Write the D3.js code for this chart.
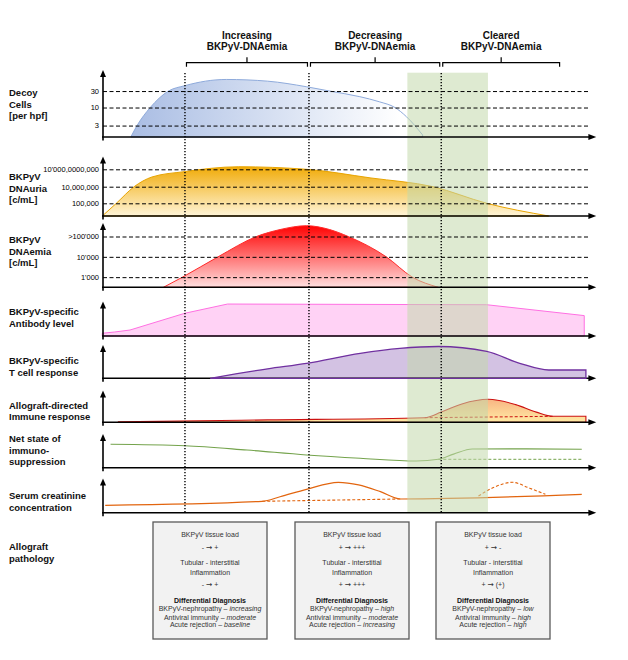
<!DOCTYPE html>
<html>
<head>
<meta charset="utf-8">
<script src="https://cdn.jsdelivr.net/npm/d3@7"></script>
<style>
body { margin: 0; background: #fff; }
svg { font-family: "Liberation Sans", Arial, sans-serif; }
</style>
</head>
<body>
<svg id="chart" width="628" height="660"></svg>
<script>
(function(){
// phases of BKPyV-DNAemia (time in arbitrary units)
const phases = ["Increasing", "Decreasing", "Cleared"];
const phaseStart = [20, 50, 82];
const phaseEnd = [50, 82, 111];
const bandTime = [73.8, 93.3];

// decoy cells per hpf
const decoyTicks = [3, 10, 30];
const decoy = [[6.9,1.4],[8.4,3],[11.6,10],[16,30],[20,43],[30,65],[40,58],[49.4,40],[55,30],[62.3,20.6],[67,14.7],[70.8,10],[73.6,5.4],[77.5,1.6]];

// DNAuria c/mL
const uriaTicks = [1e5, 1e7, 1e10];
const uriaLabels = ["100,000", "10,000,000", "10'000,0000,000"];
const uria = [[0,1e3],[3.4,1e5],[7.7,1e7],[12,4.7e8],[19.8,3.9e9],[33,2.6e10],[49.4,1e10],[65,3.2e8],[80,1e7],[93,1e5],[108,1e3]];

// DNAemia c/mL
const emiaTicks = [1e3, 1e4, 1e5];
const emiaLabels = ["1'000", "10'000", ">100'000"];
const emia = [[14.8,316],[19.4,1e3],[28,1e4],[37.3,1e5],[43,2.2e5],[49.4,3.4e5],[55,2.2e5],[59.5,1e5],[68.7,1e4],[75,1e3],[81.3,316]];

// relative levels 0-100
const antibody = [[0,8],[3,11.8],[6.7,17.6],[20,67],[30.3,94],[93,92],[116.6,60]];
const tcell = [[26.1,0],[40,28],[49.4,44],[62.4,73.5],[72,88],[81.3,93.5],[93,79],[101,44],[108,24.4],[117,24.4]];
const allograft = [[3.9,1.8],[40,7],[78,13.5],[82,30],[87,54],[93.4,67.6],[100,52],[105,30],[109,17.6],[117,17.6]];
const allograftBase = [[78,13.5],[109,17.6]];
const netState = [[2,68.8],[20,64.7],[35,52],[49.4,37.4],[62.4,27.6],[76,19.7],[81.3,24.7],[85,40],[89.5,55],[100,55.5],[116,54.1]];
const netDashed = [[81.3,24.7],[116,24.7]];
const creatinine = [[0.7,21.8],[38.7,33.5],[43,47],[49.4,68.8],[57.1,89.4],[62,82],[67.3,61.8],[72.1,40.3],[116,54.1]];
const creatDashed = [[38.7,33.5],[72.1,40.3]];
const creatBump = [[91,49.1],[95,76],[99.2,89.4],[103.4,72],[107.2,54.1]];

// allograft pathology boxes: [from, to]
const tissueLoad = [["-", "+"], ["+", "+++"], ["+", "-"]];
const inflammation = [["-", "+"], ["+", "+++"], ["+", "(+)"]];
const nephropathy = ["increasing", "high", "low"];
const antiviral = ["moderate", "moderate", "high"];
const rejection = ["baseline", "increasing", "high"];

const rowLabels = [["Decoy","Cells","[per hpf]"],["BKPyV","DNAuria","[c/mL]"],["BKPyV","DNAemia","[c/mL]"],
  ["BKPyV-specific","Antibody level"],["BKPyV-specific","T cell response"],["Allograft-directed","Immune response"],
  ["Net state of","immuno-","suppression"],["Serum creatinine","concentration"],["Allograft","pathology"]];
const labelY = [96, 180, 243, 315, 364, 408.5, 442, 499, 550];

// layout
const panelBase = [137, 216, 287.3, 336, 378.3, 422.3, 467.7, 512.7];
const panelTop = [70, 156.5, 223, 301.5, 345, 390.5, 434, 478.5];
const axisX0 = 103, gridX1 = 590;
const boxX = [153, 295, 436], boxW = 114, boxY = 522, boxH = 117;

const svg = d3.select("#chart");
const x = d3.scaleLinear().domain([0, 120]).range([102.3, 598.3]);

const yDecoy = d3.scaleLog().domain([1.4, 100]).range([137, 73]);
const yUria = d3.scaleLog().domain([1e3, 1e5, 1e7, 1e10, 1e12]).range([216, 203.3, 186.7, 169.3, 157]);
const yEmia = d3.scaleLog().domain([Math.pow(10, 2.5), 1e6]).range([287.3, 216.2]);
const yLin = base => d3.scaleLinear().domain([0, 100]).range([base, base - 34]);

const defs = svg.append("defs");
function grad(id, horiz, a, b, c0, c1) {
  const gr = defs.append("linearGradient").attr("id", id).attr("gradientUnits", "userSpaceOnUse")
    .attr("x1", horiz ? a : 0).attr("x2", horiz ? b : 0)
    .attr("y1", horiz ? 0 : a).attr("y2", horiz ? 0 : b);
  gr.append("stop").attr("offset", 0).attr("stop-color", c0);
  gr.append("stop").attr("offset", 1).attr("stop-color", c1);
}
grad("gDecoy", true, x(6), x(72), "#a8bce3", "#ffffff");
grad("gUria", false, 165, 216, "#f0a800", "#fff5d8");
grad("gEmia", false, 225, 288, "#ff0000", "#ffe2e2");
grad("gAllo", false, 399, 422, "#f8b482", "#ffeaa4");

const gArea = svg.append("g");
const gBand = svg.append("g");
const gGrid = svg.append("g");
const gPhase = svg.append("g");
const gAxes = svg.append("g");
const gTop = svg.append("g");

function area(data, y, base, fill, stroke, sw, curve) {
  const a = d3.area().x(d => x(d[0])).y0(base).y1(d => y(d[1])).curve(curve || d3.curveMonotoneX);
  return gArea.append("path").datum(data).attr("d", a)
    .attr("fill", fill).attr("stroke", stroke).attr("stroke-width", sw);
}
function line(g, data, y, stroke, sw, dash) {
  const l = d3.line().x(d => x(d[0])).y(d => y(d[1])).curve(d3.curveMonotoneX);
  return g.append("path").datum(data).attr("d", l).attr("fill", "none")
    .attr("stroke", stroke).attr("stroke-width", sw).attr("stroke-dasharray", dash || null);
}

// Areas
area(decoy, yDecoy, panelBase[0], "url(#gDecoy)", "#8eaadb", 1);
area(uria, yUria, panelBase[1], "url(#gUria)", "#e8a400", 1);
area(emia, yEmia, panelBase[2], "url(#gEmia)", "#ff2a2a", 1);
area(antibody, yLin(panelBase[3]), panelBase[3], "#ffd2f5", "#ff70e2", 1, d3.curveLinear);
const tArea = area(tcell, yLin(panelBase[4]), panelBase[4], "#d3c2e3", "none", 0);
area(allograft, yLin(panelBase[5]), panelBase[5], "url(#gAllo)", "#cc1010", 1.1);
line(gArea, allograftBase, yLin(panelBase[5]), "#cc1010", 1, "3,2");
line(gArea, netState, yLin(panelBase[6]), "#74a34c", 1.1);
line(gArea, netDashed, yLin(panelBase[6]), "#74a34c", 1, "3,2");
line(gArea, creatinine, yLin(panelBase[7]), "#e2650f", 1.2);
line(gArea, creatDashed, yLin(panelBase[7]), "#e2650f", 1.1, "3,2");
line(gArea, creatBump, yLin(panelBase[7]), "#e2650f", 1.1, "3,2");

// Green band
gBand.append("rect").attr("x", x(bandTime[0])).attr("width", x(bandTime[1]) - x(bandTime[0]))
  .attr("y", 72.7).attr("height", 512.7 - 72.7).attr("fill", "#c3d9ab").attr("opacity", 0.55);

// Dashed gridlines with tick labels
function ticks(y, values, labels) {
  const ax = gGrid.append("g").attr("transform", `translate(${axisX0},0)`)
    .call(d3.axisLeft(y).tickValues(values).tickFormat((d, i) => labels[i])
      .tickSizeInner(-(gridX1 - axisX0)).tickSizeOuter(0).tickPadding(4));
  ax.attr("font-size", 7.5).attr("font-family", "'Liberation Sans', Arial, sans-serif");
  ax.select(".domain").remove();
  ax.selectAll(".tick line").attr("stroke", "#000").attr("stroke-width", 1).attr("stroke-dasharray", "4,2.5");
  ax.selectAll(".tick text").attr("fill", "#000");
}
ticks(yDecoy, decoyTicks, decoyTicks.map(String));
ticks(yUria, uriaTicks, uriaLabels);
ticks(yEmia, emiaTicks, emiaLabels);

// Phase lines
phaseStart.forEach(t => {
  gPhase.append("line").attr("x1", x(t)).attr("x2", x(t)).attr("y1", 73).attr("y2", 513)
    .attr("stroke", "#000").attr("stroke-width", 1.4).attr("stroke-dasharray", "1.2,1.8");
});

// Brackets and headers
phases.forEach((p, i) => {
  const x0 = x(phaseStart[i]) + 1.5, x1 = x(phaseEnd[i]) - 1.5, xm = x((phaseStart[i] + phaseEnd[i]) / 2);
  gPhase.append("path").attr("d", `M${x0},66.7V62.7H${x1}V66.7M${xm},62.7V57.3`)
    .attr("fill", "none").attr("stroke", "#000").attr("stroke-width", 1.2);
  const t = gPhase.append("text").attr("text-anchor", "middle").attr("font-size", 10)
    .attr("font-weight", "bold").attr("fill", "#111");
  t.append("tspan").attr("x", xm).attr("y", 38.5).text(p);
  t.append("tspan").attr("x", xm).attr("y", 50).text("BKPyV-DNAemia");
});

// Axes with arrows
panelBase.forEach((b, i) => {
  const top = panelTop[i];
  gAxes.append("line").attr("x1", axisX0).attr("x2", axisX0).attr("y1", top + 5).attr("y2", b + 3.5)
    .attr("stroke", "#000").attr("stroke-width", 1.6);
  gAxes.append("path").attr("d", `M${axisX0},${top}L${axisX0 - 3},${top + 7}L${axisX0 + 3},${top + 7}Z`);
  gAxes.append("line").attr("x1", axisX0 - 1).attr("x2", x(118)).attr("y1", b).attr("y2", b)
    .attr("stroke", "#000").attr("stroke-width", 1.6);
  gAxes.append("path").attr("d", `M${x(119.5)},${b}L${x(117.6)},${b - 3}L${x(117.6)},${b + 3}Z`);
});

// T cell outline drawn over axis
gTop.append("path").attr("d", tArea.attr("d")).attr("fill", "none")
  .attr("stroke", "#7030a0").attr("stroke-width", 1.3);

// Row labels
rowLabels.forEach((lines, i) => {
  const t = svg.append("text").attr("font-size", 9.5).attr("font-weight", "bold").attr("fill", "#111");
  lines.forEach((l, j) => t.append("tspan").attr("x", 9).attr("y", labelY[i] + j * 11.7).text(l));
});

// Pathology boxes
boxX.forEach((bx, i) => {
  const cx = bx + boxW / 2;
  svg.append("rect").attr("x", bx).attr("y", boxY).attr("width", boxW).attr("height", boxH)
    .attr("fill", "#f2f2f2").attr("stroke", "#595959").attr("stroke-width", 1.3);
  const txt = (y, s, bold) => svg.append("text").attr("x", cx).attr("y", y).attr("text-anchor", "middle")
    .attr("font-size", 7).attr("fill", "#333").attr("font-weight", bold ? "bold" : null).text(s);
  const arrow = (y, pair) => {
    const t = txt(y, pair[0] + " ");
    t.append("tspan").attr("font-family", "'DejaVu Sans', sans-serif").attr("font-size", 7.5).text("\u2192");
    t.append("tspan").text(" " + pair[1]);
  };
  txt(537, "BKPyV tissue load");
  arrow(550, tissueLoad[i]);
  txt(565, "Tubular - interstitial");
  txt(575, "Inflammation");
  arrow(587, inflammation[i]);
  txt(603, "Differential Diagnosis", true).attr("fill", "#111");
  const it = (y, a, b) => {
    const t = txt(y, a);
    t.append("tspan").attr("font-style", "italic").text(b);
  };
  it(611, "BKPyV-nephropathy  \u2013 ", nephropathy[i]);
  it(619.5, "Antiviral immunity \u2013 ", antiviral[i]);
  it(627, "Acute rejection \u2013 ", rejection[i]);
});
}());
</script>
</body>
</html>
